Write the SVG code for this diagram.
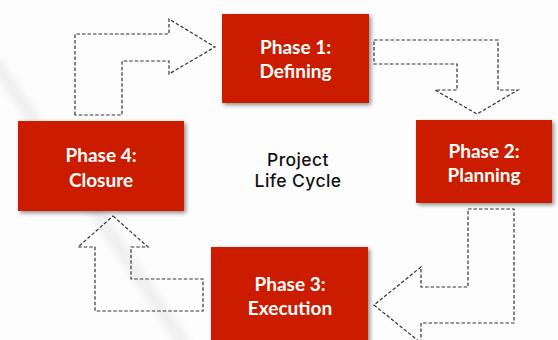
<svg xmlns="http://www.w3.org/2000/svg" width="558" height="340" viewBox="0 0 558 340">
<defs>
<filter id="shadow" x="-10%" y="-10%" width="125%" height="130%">
<feDropShadow dx="2" dy="2" stdDeviation="2" flood-color="#000" flood-opacity="0.45"/>
</filter>
<filter id="soft" x="-20%" y="-20%" width="140%" height="140%">
<feGaussianBlur stdDeviation="3"/>
</filter>
<style>
.box{fill:#CC1F00;filter:url(#shadow);}
.lbl{font-family:Lato,"Open Sans",sans-serif;font-weight:700;font-size:19px;fill:#ffffff;text-anchor:middle;}
.title{font-family:Inter,"Open Sans",sans-serif;font-weight:500;font-size:17.5px;fill:#111111;text-anchor:middle;letter-spacing:0.4px;}
.arrow{fill:none;stroke:#333333;stroke-width:1.2;stroke-dasharray:3.5 2;stroke-linejoin:miter;}
</style>
</defs>
<rect width="558" height="340" fill="#fdfdfd"/>
<line x1="-5" y1="62" x2="185" y2="345" stroke="#000" stroke-opacity="0.05" stroke-width="14" filter="url(#soft)"/>
<g id="connectors">
<path class="arrow" d="M75,115 L75,34 L169,34 L169,19 L215,47 L169,74 L169,61 L122,61 L122,115 Z"/>
<path class="arrow" d="M374,40 L498,40 L498,90 L518,90 L477,114 L435,90 L457,90 L457,64 L374,64 Z"/>
<path class="arrow" d="M468,209 L514,209 L514,323 L421,323 L421,343 L374,305 L421,267 L421,287 L468,287 Z"/>
<path class="arrow" d="M113,216 L148,247 L131,247 L131,279 L203,279 L203,311 L95,311 L95,247 L78,247 Z"/>
</g>
<g id="phase1">
<rect class="box" x="222" y="14" width="147" height="89"/>
<text class="lbl" x="295.5" y="54">Phase 1:</text>
<text class="lbl" x="295.5" y="78">Defining</text>
</g>
<g id="phase2">
<rect class="box" x="416" y="120" width="136" height="83"/>
<text class="lbl" x="484" y="158">Phase 2:</text>
<text class="lbl" x="484" y="182">Planning</text>
</g>
<g id="phase3">
<rect class="box" x="211" y="247" width="157" height="100"/>
<text class="lbl" x="290" y="291">Phase 3:</text>
<text class="lbl" x="290" y="315">Execution</text>
</g>
<g id="phase4">
<rect class="box" x="18" y="121" width="166" height="90"/>
<text class="lbl" x="101" y="162">Phase 4:</text>
<text class="lbl" x="101" y="187">Closure</text>
</g>
<g id="center">
<text class="title" x="298" y="166">Project</text>
<text class="title" x="298" y="187">Life Cycle</text>
</g>
</svg>
